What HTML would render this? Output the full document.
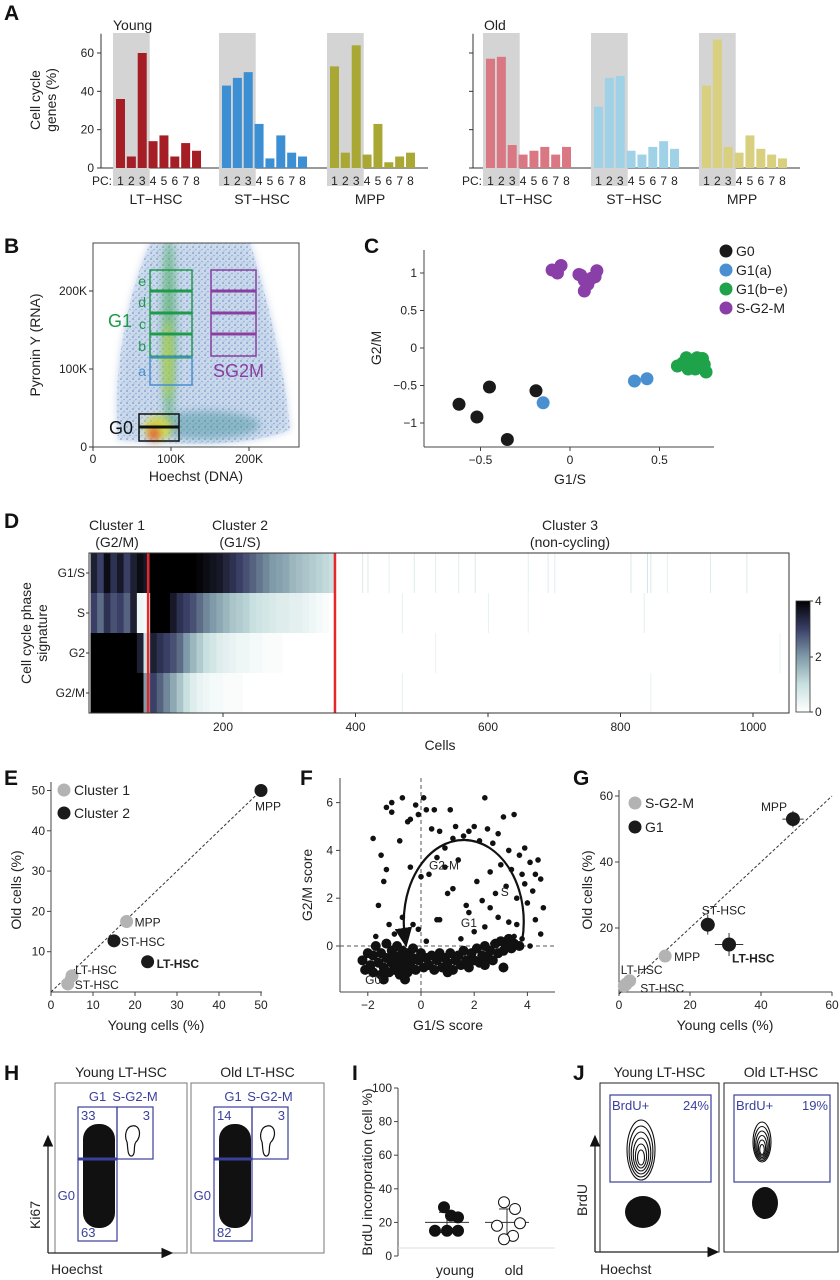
<!DOCTYPE html>
<html><head><meta charset="utf-8"><title>Cell cycle figure</title>
<style>
html,body{margin:0;padding:0;background:#fff;}
svg{display:block;font-family:"Liberation Sans",sans-serif;}
.t{font-size:12px;fill:#222;}
.lab{font-size:14px;fill:#222;}
.let{font-size:21px;font-weight:bold;fill:#111;}
</style></head>
<body>
<svg id="fig" width="840" height="1280" viewBox="0 0 840 1280" xmlns="http://www.w3.org/2000/svg">
<defs>
 <filter id="blur4" x="-50%" y="-50%" width="200%" height="200%"><feGaussianBlur stdDeviation="4"/></filter>
 <filter id="blur8" x="-50%" y="-50%" width="200%" height="200%"><feGaussianBlur stdDeviation="8"/></filter>
 <pattern id="speck" width="6" height="6" patternUnits="userSpaceOnUse">
  <rect width="6" height="6" fill="#c9d9ee"/><circle cx="1" cy="1" r="0.9" fill="#1f3f9a"/><circle cx="4" cy="3.5" r="0.8" fill="#3a6fc4"/><circle cx="2" cy="5" r="0.6" fill="#2c8a8a"/>
 </pattern>
 <linearGradient id="cbar" x1="0" y1="1" x2="0" y2="0">
  <stop offset="0" stop-color="#ffffff"/><stop offset="0.25" stop-color="#c8e0e0"/><stop offset="0.5" stop-color="#7f9aa8"/><stop offset="0.75" stop-color="#3a3f66"/><stop offset="1" stop-color="#000"/>
 </linearGradient>
 <marker id="arr" markerWidth="10" markerHeight="10" refX="5" refY="5" orient="auto"><path d="M0,1 L9,5 L0,9 z" fill="#111"/></marker>
</defs>

<text class="let" x="4" y="20">A</text>
<text class="let" x="4" y="253">B</text>
<text class="let" x="364" y="253">C</text>
<text class="let" x="4" y="528">D</text>
<text class="let" x="4" y="785">E</text>
<text class="let" x="300" y="785">F</text>
<text class="let" x="573" y="785">G</text>
<text class="let" x="4" y="1080">H</text>
<text class="let" x="352" y="1080">I</text>
<text class="let" x="573" y="1080">J</text>

<g id="pA"></g>
<g id="pB"></g>
<g id="pC"></g>
<g id="pD"></g>
<g id="pE"></g>
<g id="pF"></g>
<g id="pG"></g>
<g id="pH"></g>
<g id="pI"></g>
<g id="pJ"></g>
</svg>

<script>
// ---------------- DATA ----------------
const pcLabels = ["1","2","3","4","5","6","7","8"];
const groupNames = ["LT\u2212HSC","ST\u2212HSC","MPP"];
const aTicks = [0,20,40,60];
const youngLT = [36,6,60,14,17,6,13,9];
const youngST = [43,47,50,23,5,17,8,6];
const youngMPP = [53,8,64,7,23,3,6,8];
const oldLT = [57,58,12,7,9,11,7,11];
const oldST = [32,47,48,9,7,11,14,10];
const oldMPP = [43,67,11,8,17,10,7,5];
const cTicksX = [-0.5,0,0.5];
const cTicksY = [1,0.5,0,-0.5,-1];
const g0X = [-0.62,-0.45,-0.52,-0.35,-0.19];
const g0Y = [-0.75,-0.52,-0.92,-1.22,-0.57];
const g1aX = [-0.15,0.36,0.43];
const g1aY = [-0.73,-0.44,-0.41];
const g1beX = [0.60,0.63,0.65,0.68,0.70,0.72,0.74,0.75,0.76,0.66,0.71];
const g1beY = [-0.24,-0.20,-0.13,-0.22,-0.28,-0.18,-0.14,-0.22,-0.32,-0.28,-0.13];
const sg2mX = [-0.10,-0.07,-0.05,0.06,0.08,0.10,0.08,0.12,0.15,0.14,0.05];
const sg2mY = [1.04,1.00,1.10,0.97,0.90,0.85,0.76,0.93,1.03,0.95,0.98];
const hmRows = ["G1/S","S","G2","G2/M"];
const hmG1S = [3.5,3.0,3.8,3.2,3.6,3.0,3.5,3.8,3.6, 4,4,4,4,4,4,4,3.9,3.8,3.7,3.6,3.4,3.2,3.0,2.8,2.6,2.4,2.2,2.0,1.9,1.8,1.6,1.5,1.4,1.3,1.2,1.1,1.0];
const hmS   = [3.0,2.5,3.2,2.8,3.0,2.6,3.5,0.3,0.2, 4,4,4,3.6,3.2,3.0,2.8,2.5,2.2,2.0,1.8,1.6,1.4,1.3,1.2,1.0,0.9,0.8,0.7,0.6,0.6,0.5,0.5,0.4,0.3,0.2,0.1,0];
const hmG2  = [4,4,4,4,4,4,4,3.5,1.0, 3.5,3.2,3.0,2.8,2.5,2.0,1.6,1.3,1.0,0.8,0.6,0.5,0.4,0.3,0.3,0.2,0.2,0.1,0.1,0.1,0,0,0,0,0,0,0,0];
const hmG2M = [4,4,4,4,4,4,4,4,2.0, 3.0,2.6,2.2,1.8,1.4,1.0,0.6,0.4,0.3,0.2,0.2,0.1,0.1,0.1,0,0,0,0,0,0,0,0,0,0,0,0,0,0];
const sparseCells = [410,418,450,488,520,555,580,660,690,700,815,840,845,870,935,990,470,600,660,835,520,1040,470,845];
const sparseRow   = [0,0,0,0,0,0,0,0,0,0,0,0,0,0,0,0,1,1,1,1,2,2,3,3];
const sparseVal   = [0.7,0.6,0.5,0.6,0.5,0.5,0.6,0.5,0.6,0.5,0.7,0.8,0.7,0.5,0.6,0.6,0.5,0.4,0.4,0.5,0.4,0.4,0.5,0.4];
const clusterBounds = [87,369];
const dTicks = [200,400,600,800,1000];
const eTicks = [0,10,20,30,40,50];
const eC1X = [18,5,4]; const eC1Y = [17.5,4,2]; const eC1L = ["MPP","LT-HSC","ST-HSC"];
const eC2X = [50,15,23]; const eC2Y = [50,12.7,7.5]; const eC2L = ["MPP","ST-HSC","LT-HSC"];
const fTicksX = [-2,0,2,4];
const fTicksY = [0,2,4,6];
const fScatX = [-1.8,-1.3,-1.1,-1.1,-0.7,-0.5,-0.4,-0.2,-0.1,0.1,0.2,0.4,0.5,0.7,0.9,1.1,1.2,1.3,1.6,1.8,2.0,2.2,2.4,2.5,2.7,2.9,3.1,3.3,3.5,3.7,3.9,4.1,4.3,4.4,4.5,4.2,4.0,3.9,3.6,3.4,3.2,3.0,2.8,2.6,2.9,3.3,3.6,4.3,4.5,4.6,-1.5,-1.4,-1.3,-1.6,-1.2,-1.0,-0.3,-0.1,0.3,0.0,-0.4,0.6,1.0,1.4,1.7,1.8,0.6,0.7,2.1,2.3,2.0,2.4,1.5,0.2,-1.7,3.8,4.1,3.5,2.7,0.9,1.2,-0.7,-0.8,2.6,3.8];
const fScatY = [4.5,5.8,6.0,5.6,6.2,5.2,5.3,5.9,5.5,6.2,5.7,4.9,5.7,4.8,4.1,5.7,4.5,5.0,4.6,4.8,5.0,4.4,6.2,4.9,4.3,4.7,5.4,4.0,5.5,3.8,4.1,3.5,3.0,3.6,2.8,2.3,1.8,2.6,2.0,3.2,2.5,3.4,2.2,1.6,1.2,1.0,0.9,1.1,0.5,1.6,3.8,2.7,3.2,1.7,0.9,0.5,0.9,0.7,3.0,2.9,3.3,3.7,2.2,3.6,1.7,1.4,1.1,1.1,2.7,1.9,0.6,0.8,0.3,0.2,0.4,0.3,0.0,0.4,0.1,3.3,2.4,1.2,4.4,3.1,3.0];
const fBandX = [-2.2,-2.1,-2.0,-1.9,-1.8,-1.8,-1.7,-1.6,-1.5,-1.5,-1.4,-1.3,-1.3,-1.2,-1.1,-1.1,-1.0,-1.0,-0.9,-0.9,-0.8,-0.8,-0.7,-0.7,-0.6,-0.5,-0.5,-0.4,-0.3,-0.3,-0.2,-0.1,0.0,0.1,0.2,0.3,0.4,0.5,0.6,0.7,0.8,0.9,1.0,1.1,1.2,1.3,1.4,1.5,1.6,1.7,1.8,1.9,2.0,2.1,2.2,2.3,2.4,2.5,2.6,2.7,2.8,2.9,3.0,3.1,3.2,3.3,3.4,3.5,3.7,-1.4,-0.6,1.0,2.4,3.1];
const fBandY = [-0.6,-1.0,-0.3,-0.8,-1.1,-0.4,0.0,-0.7,-1.2,-0.3,-0.9,0.1,-0.5,-1.1,-0.2,-0.7,-1.0,-0.4,0.0,-0.8,-1.2,-0.5,-0.2,-0.9,-0.6,-1.1,-0.3,-0.8,-0.1,-0.5,-1.0,-0.6,-0.3,-0.9,-0.5,-0.8,-0.4,-1.0,-0.6,-0.3,-0.9,-0.5,-0.7,-0.3,-1.0,-0.6,-0.4,-0.8,-0.2,-0.6,-0.9,-0.3,-0.6,-0.1,-0.7,-0.4,0.0,-0.5,-0.2,-0.6,0.1,-0.3,0.2,-0.2,0.0,0.3,-0.1,0.1,0.0,-1.4,-1.4,-1.1,-0.8,-0.9];
const gTicks = [0,20,40,60];
const gGrayX = [13,3,2,1.5]; const gGrayY = [11.5,4,3,2.5];
const gBlackX = [49,25,31]; const gBlackY = [53,21,15];
const gErrX = [3,2,4]; const gErrY = [2.5,3,3.5];
const iTicks = [0,20,40,60,80,100];
const iYoung = [29,24,23,15,15,15];
const iOld = [32,28,19.5,18,12,10];
const iYoungStats = [20,26,14];
const iOldStats = [20,28,11];

const NS = "http://www.w3.org/2000/svg";
function mk(parent, tag, attrs, txt){
  const e = document.createElementNS(NS, tag);
  for (const k in attrs) e.setAttribute(k, attrs[k]);
  if (txt !== undefined) e.textContent = txt;
  parent.appendChild(e);
  return e;
}
const $ = id => document.getElementById(id);

// ---------------- PANEL A ----------------
(function(){
  const g = $("pA");
  const base = 168, ppu = 1.917, step = 10.86, bw = 9;
  const ay = v => base - v*ppu;
  function side(axisX, groupX, endX, sets, colors, showTickLabels, title, titleX){
    const ax = mk(g,"line",{x1:axisX,y1:ay(70),x2:axisX,y2:base,stroke:"#333","stroke-width":1});
    
    
    const bl = mk(g,"line",{x1:axisX,y1:base,x2:endX,y2:base,stroke:"#333","stroke-width":1});
    
    
    aTicks.forEach(t=>{
      const tk = mk(g,"line",{x1:axisX-4,y1:ay(t),x2:axisX,y2:ay(t),stroke:"#333"});
      
      
      if (showTickLabels){
        const tl = mk(g,"text",{x:axisX-7,y:ay(t)+4,"text-anchor":"end",class:"t"},String(t));
        
        
      }
    });
    sets.forEach((vals,gi)=>{
      const gx = groupX[gi];
      const sh = mk(g,"rect",{x:gx-3,y:33,width:step*2+bw+6,height:153,fill:"#d4d4d4"});
      
      
      vals.forEach((v,i)=>{
        const r = mk(g,"rect",{x:gx+i*step,y:ay(v),width:bw,height:v*ppu,fill:colors[gi]});
        
        
        const pl = mk(g,"text",{x:gx+i*step+bw/2,y:185,"text-anchor":"middle",class:"t","font-size":"11"},pcLabels[i]);
        
        
      });
      const gl = mk(g,"text",{x:gx+40,y:204,"text-anchor":"middle",class:"lab"},groupNames[gi]);
      
      
    });
    const tt = mk(g,"text",{x:titleX,y:30,class:"lab","font-size":"16"},title);
    
    
    const pc = mk(g,"text",{x:groupX[0]-24,y:185,class:"t","font-size":"11"},"PC:");
    
    
  }
  side(101,[116,222,330],428,[youngLT,youngST,youngMPP],["#a51e26","#3b8fd2","#aaa834"],true,"Young",113);
  side(473,[486,594,702],800,[oldLT,oldST,oldMPP],["#d97883","#9fd2e6","#d8d07e"],false,"Old",484);
  const yl = mk(g,"text",{transform:"translate(40,100) rotate(-90)","text-anchor":"middle",class:"lab"},"Cell cycle");
  
  
  const yl2 = mk(g,"text",{transform:"translate(56,100) rotate(-90)","text-anchor":"middle",class:"lab"},"genes (%)");
  
  
})();

// ---------------- PANEL B ----------------
(function(){
  const g = $("pB");
  const bx = v => 93 + v*0.78;
  const by = v => 447 - v*0.78;
  const clip = mk(g,"clipPath",{id:"bclip"}); mk(clip,"rect",{x:93,y:243,width:206,height:204});
  const d = mk(g,"g",{"clip-path":"url(#bclip)"});
  
  
  mk(d,"path",{d:"M118,440 C112,380 125,300 150,243 L250,243 C268,300 285,370 290,430 C250,445 200,447 118,440 z",fill:"url(#speck)",opacity:"0.75",filter:"url(#blur4)"});
  mk(d,"path",{d:"M118,440 C112,380 125,300 150,243 L250,243 C268,300 285,370 290,430 C250,445 200,447 118,440 z",fill:"url(#speck)",opacity:"0.45"});
  mk(d,"ellipse",{cx:205,cy:425,rx:55,ry:14,fill:"#3d8f9a",opacity:"0.45",filter:"url(#blur4)"});
  mk(d,"ellipse",{cx:169,cy:330,rx:7,ry:95,fill:"#58b070",opacity:"0.7",filter:"url(#blur4)"});
  mk(d,"ellipse",{cx:168,cy:360,rx:4,ry:40,fill:"#d6dd40",opacity:"0.7",filter:"url(#blur4)"});
  mk(d,"ellipse",{cx:158,cy:428,rx:14,ry:12,fill:"#d8dc3c",opacity:"0.9",filter:"url(#blur4)"});
  mk(d,"ellipse",{cx:154,cy:434,rx:5,ry:7,fill:"#e8402a",opacity:"0.9",filter:"url(#blur4)"});
  const fr = mk(g,"rect",{x:93,y:243,width:206,height:204,fill:"none",stroke:"#444","stroke-width":1});
  
  
  [0,100,200].forEach(t=>{
    mk(g,"line",{x1:bx(t),y1:447,x2:bx(t),y2:451,stroke:"#333"});
    const lx = mk(g,"text",{x:bx(t),y:463,"text-anchor":"middle",class:"t"},t===0?"0":t+"K");
    
    
    mk(g,"line",{x1:89,y1:by(t),x2:93,y2:by(t),stroke:"#333"});
    const ly = mk(g,"text",{x:87,y:by(t)+4,"text-anchor":"end",class:"t"},t===0?"0":t+"K");
    
    
  });
  const xt = mk(g,"text",{x:196,y:481,"text-anchor":"middle",class:"lab","font-size":"13"},"Hoechst (DNA)");
  
  
  const yt = mk(g,"text",{transform:"translate(40,345) rotate(-90)","text-anchor":"middle",class:"lab","font-size":"13"},"Pyronin Y (RNA)");
  
  
  const green="#1f9a4a", blue="#4a8fcf", purple="#8a3fa0";
  mk(g,"rect",{x:150,y:270,width:42,height:87,fill:"none",stroke:green,"stroke-width":1.5});
  [291,313,334,357].forEach(y=>mk(g,"line",{x1:150,y1:y,x2:192,y2:y,stroke:green,"stroke-width":3}));
  mk(g,"rect",{x:150,y:357,width:42,height:28,fill:"none",stroke:blue,"stroke-width":1.5});
  mk(g,"rect",{x:211,y:270,width:45,height:86,fill:"none",stroke:purple,"stroke-width":1.5});
  [291,313,334].forEach(y=>mk(g,"line",{x1:211,y1:y,x2:256,y2:y,stroke:purple,"stroke-width":3}));
  mk(g,"rect",{x:139,y:414,width:40,height:27,fill:"none",stroke:"#111","stroke-width":1.5});
  mk(g,"line",{x1:139,y1:427,x2:179,y2:427,stroke:"#111","stroke-width":3});
  [["e",281],["d",302],["c",324],["b",346]].forEach(([l,y])=>{
    const t = mk(g,"text",{x:146,y:y+5,"text-anchor":"end","font-size":"14",fill:green},l);
    
    
  });
  const ta = mk(g,"text",{x:146,y:376,"text-anchor":"end","font-size":"14",fill:blue},"a");
  
  
  const tg1 = mk(g,"text",{x:108,y:327,"font-size":"18",fill:green},"G1");
  
  
  const ts = mk(g,"text",{x:213,y:377,"font-size":"18",fill:purple},"SG2M");
  
  
  const t0 = mk(g,"text",{x:109,y:434,"font-size":"18",fill:"#111"},"G0");
  
  
})();

// ---------------- PANEL C ----------------
(function(){
  const g = $("pC");
  const cx = v => 570 + v*179;
  const cy = v => 348 - v*75;
  mk(g,"line",{x1:424,y1:250,x2:424,y2:447,stroke:"#444"});
  mk(g,"line",{x1:424,y1:447,x2:714,y2:447,stroke:"#444"});
  cTicksX.forEach(t=>{
    mk(g,"line",{x1:cx(t),y1:447,x2:cx(t),y2:451,stroke:"#444"});
    const l = mk(g,"text",{x:cx(t),y:464,"text-anchor":"middle",class:"t"},t===0?"0":(t<0?"\u22120.5":"0.5"));
    
    
  });
  cTicksY.forEach(t=>{
    mk(g,"line",{x1:420,y1:cy(t),x2:424,y2:cy(t),stroke:"#444"});
    const l = mk(g,"text",{x:417,y:cy(t)+4,"text-anchor":"end",class:"t"},String(t).replace("-","\u2212"));
    
    
  });
  const xt = mk(g,"text",{x:570,y:484,"text-anchor":"middle",class:"lab","font-size":"13"},"G1/S");
  
  
  const yt = mk(g,"text",{transform:"translate(381,348) rotate(-90)","text-anchor":"middle",class:"lab","font-size":"13"},"G2/M");
  
  
  function pts(X,Y,col,name){
    X.forEach((x,i)=>{
      const c = mk(g,"circle",{cx:cx(x),cy:cy(Y[i]),r:6.5,fill:col});
      
      
    });
  }
  pts(g0X,g0Y,"#1a1a1a","c-point-g0");
  pts(g1aX,g1aY,"#4a90d0","c-point-g1a");
  pts(g1beX,g1beY,"#1ea24a","c-point-g1be");
  pts(sg2mX,sg2mY,"#8a3ea8","c-point-sg2m");
  [["G0","#1a1a1a"],["G1(a)","#4a90d0"],["G1(b\u2212e)","#1ea24a"],["S-G2-M","#8a3ea8"]].forEach(([l,c],i)=>{
    const y = 251 + i*19;
    const lc = mk(g,"circle",{cx:726,cy:y,r:6.5,fill:c});
    
    
    const lt = mk(g,"text",{x:736,y:y+5,class:"lab","font-size":"13"},l);
    
    
  });
})();

// ---------------- PANEL D ----------------
(function(){
  const g = $("pD");
  const hx = c => 90.5 + c*0.6625;
  const rowTop = r => 553 + r*40;
  const stops = [[255,255,255],[200,224,224],[127,154,168],[58,63,102],[0,0,0]];
  function col(v){
    v = Math.max(0,Math.min(4,v));
    const i = Math.min(3,Math.floor(v)), f = v - i;
    const a = stops[i], b = stops[i+1];
    return "rgb("+a.map((x,k)=>Math.round(x+(b[k]-x)*f)).join(",")+")";
  }
  const rows = [hmG1S,hmS,hmG2,hmG2M];
  rows.forEach((vals,r)=>{
    vals.forEach((v,b)=>{
      const c0 = b*10, c1 = Math.min(clusterBounds[1], (b+1)*10);
      const rc = mk(g,"rect",{x:hx(c0),y:rowTop(r),width:hx(c1)-hx(c0)+0.4,height:40,fill:col(v)});
      
      
    });
  });
  sparseCells.forEach((c,i)=>{
    const ln = mk(g,"rect",{x:hx(c),y:rowTop(sparseRow[i]),width:1,height:40,fill:col(sparseVal[i])});
    
    
  });
  clusterBounds.forEach(c=>{
    const rl = mk(g,"line",{x1:hx(c),y1:553,x2:hx(c),y2:713,stroke:"#e8262a","stroke-width":2.5});
    
    
  });
  mk(g,"rect",{x:89,y:553,width:700,height:160,fill:"none",stroke:"#333"});
  hmRows.forEach((n,r)=>{
    const y = rowTop(r)+20;
    mk(g,"line",{x1:86,y1:y,x2:89,y2:y,stroke:"#333"});
    const t = mk(g,"text",{x:85,y:y+4,"text-anchor":"end",class:"t","font-size":"11"},n);
    
    
  });
  dTicks.forEach(t=>{
    mk(g,"line",{x1:hx(t),y1:713,x2:hx(t),y2:717,stroke:"#333"});
    const l = mk(g,"text",{x:hx(t),y:731,"text-anchor":"middle",class:"t","font-size":"11"},String(t));
    
    
  });
  const xt = mk(g,"text",{x:440,y:750,"text-anchor":"middle",class:"lab"},"Cells");
  
  
  const y1 = mk(g,"text",{transform:"translate(31,633) rotate(-90)","text-anchor":"middle",class:"lab"},"Cell cycle phase");
  
  
  const y2 = mk(g,"text",{transform:"translate(47,633) rotate(-90)","text-anchor":"middle",class:"lab"},"signature");
  
  
  [["Cluster 1","(G2/M)",117],["Cluster 2","(G1/S)",240],["Cluster 3","(non-cycling)",570]].forEach(([a,b,x])=>{
    const t1 = mk(g,"text",{x:x,y:530,"text-anchor":"middle",class:"lab","font-size":"13"},a);
    
    
    const t2 = mk(g,"text",{x:x,y:547,"text-anchor":"middle",class:"lab","font-size":"13"},b);
    
    
  });
  const cb = mk(g,"rect",{x:796,y:601,width:14,height:111,fill:"url(#cbar)",stroke:"#333","stroke-width":0.8});
  
  
  [[4,601],[2,657],[0,712]].forEach(([v,y])=>{
    mk(g,"line",{x1:810,y1:y,x2:813,y2:y,stroke:"#333"});
    const t = mk(g,"text",{x:815,y:y+4,class:"t","font-size":"10"},String(v));
    
    
  });
})();

// ---------------- PANEL E ----------------
(function(){
  const g = $("pE");
  const ex = v => 51 + v*4.2;
  const ey = v => 992 - v*4.03;
  mk(g,"line",{x1:51,y1:782,x2:51,y2:992,stroke:"#444"});
  mk(g,"line",{x1:51,y1:992,x2:262,y2:992,stroke:"#444"});
  eTicks.forEach(t=>{
    mk(g,"line",{x1:ex(t),y1:992,x2:ex(t),y2:996,stroke:"#444"});
    const l = mk(g,"text",{x:ex(t),y:1009,"text-anchor":"middle",class:"t"},String(t));
    
    
    if (t>0){
      mk(g,"line",{x1:47,y1:ey(t),x2:51,y2:ey(t),stroke:"#444"});
      const ly = mk(g,"text",{x:45,y:ey(t)+4,"text-anchor":"end",class:"t"},String(t));
      
      
    }
  });
  const dl = mk(g,"line",{x1:ex(0),y1:ey(0),x2:ex(50),y2:ey(50),stroke:"#333","stroke-dasharray":"3,2"});
  
  
  const xt = mk(g,"text",{x:156,y:1030,"text-anchor":"middle",class:"lab","font-size":"13"},"Young cells (%)");
  
  
  const yt = mk(g,"text",{transform:"translate(21,890) rotate(-90)","text-anchor":"middle",class:"lab","font-size":"13"},"Old cells (%)");
  
  
  eC1X.forEach((x,i)=>{
    const c = mk(g,"circle",{cx:ex(x),cy:ey(eC1Y[i]),r:6.5,fill:"#b3b3b3"});
    
    
  });
  eC2X.forEach((x,i)=>{
    const c = mk(g,"circle",{cx:ex(x),cy:ey(eC2Y[i]),r:6.5,fill:"#1a1a1a"});
    
    
  });
  const lbls = [[eC1L[0],ex(eC1X[0])+8,ey(eC1Y[0])+5,false],[eC1L[1],ex(eC1X[1])+3,ey(eC1Y[1])-2,false],[eC1L[2],ex(eC1X[2])+7,ey(eC1Y[2])+5,false],
    [eC2L[0],ex(eC2X[0])-6,ey(eC2Y[0])+20,false],[eC2L[1],ex(eC2X[1])+7,ey(eC2Y[1])+5,false],[eC2L[2],ex(eC2X[2])+9,ey(eC2Y[2])+6,true]];
  lbls.forEach(([t,x,y,b])=>{
    const l = mk(g,"text",{x:x,y:y,class:"t","font-size":b?"15":"11","font-weight":b?"bold":"normal"},t);
    
    
  });
  [["Cluster 1","#b3b3b3",790],["Cluster 2","#1a1a1a",813]].forEach(([l,c,y])=>{
    const m = mk(g,"circle",{cx:64,cy:y,r:6.5,fill:c});
    
    
    const t = mk(g,"text",{x:74,y:y+5,class:"lab","font-size":"13"},l);
    
    
  });
})();

// ---------------- PANEL F ----------------
(function(){
  const g = $("pF");
  const fx = v => 421 + v*26.6;
  const fy = v => 946 - v*23.9;
  mk(g,"line",{x1:340,y1:778,x2:340,y2:992,stroke:"#444"});
  mk(g,"line",{x1:340,y1:992,x2:555,y2:992,stroke:"#444"});
  fTicksX.forEach(t=>{
    mk(g,"line",{x1:fx(t),y1:992,x2:fx(t),y2:996,stroke:"#444"});
    const l = mk(g,"text",{x:fx(t),y:1009,"text-anchor":"middle",class:"t"},String(t).replace("-","\u2212"));
    
    
  });
  fTicksY.forEach(t=>{
    mk(g,"line",{x1:336,y1:fy(t),x2:340,y2:fy(t),stroke:"#444"});
    const l = mk(g,"text",{x:333,y:fy(t)+4,"text-anchor":"end",class:"t"},String(t));
    
    
  });
  mk(g,"line",{x1:fx(0),y1:778,x2:fx(0),y2:992,stroke:"#555","stroke-dasharray":"4,3"});
  mk(g,"line",{x1:340,y1:fy(0),x2:555,y2:fy(0),stroke:"#555","stroke-dasharray":"4,3"});
  fBandX.forEach((x,i)=>{
    const c = mk(g,"circle",{cx:fx(x),cy:fy(fBandY[i]),r:5,fill:"#111"});
    
    
  });
  fScatX.forEach((x,i)=>{
    const c = mk(g,"circle",{cx:fx(x),cy:fy(fScatY[i]),r:2.8,fill:"#111"});
    
    
  });
  const arc = mk(g,"path",{d:"M"+fx(3.8)+","+fy(0.2)+" A60,82 0 1 0 "+fx(-0.6)+","+fy(0.3),fill:"none",stroke:"#111","stroke-width":2.2,"marker-end":"url(#arr)"});
  
  
  [["G2-M",0.3,3.2],["S",3.0,2.1],["G1",1.5,0.8],["G0",-2.1,-1.6]].forEach(([t,x,y])=>{
    const l = mk(g,"text",{x:fx(x),y:fy(y),class:"t","font-size":"11"},t);
    
    
  });
  const xt = mk(g,"text",{x:448,y:1030,"text-anchor":"middle",class:"lab","font-size":"13"},"G1/S score");
  
  
  const yt = mk(g,"text",{transform:"translate(312,885) rotate(-90)","text-anchor":"middle",class:"lab","font-size":"13"},"G2/M score");
  
  
})();

// ---------------- PANEL G ----------------
(function(){
  const g = $("pG");
  const gx = v => 619 + v*3.55;
  const gy = v => 994 - v*3.3;
  mk(g,"line",{x1:619,y1:790,x2:619,y2:992,stroke:"#444"});
  mk(g,"line",{x1:619,y1:992,x2:832,y2:992,stroke:"#444"});
  gTicks.forEach(t=>{
    mk(g,"line",{x1:gx(t),y1:992,x2:gx(t),y2:996,stroke:"#444"});
    const l = mk(g,"text",{x:gx(t),y:1009,"text-anchor":"middle",class:"t"},String(t));
    
    
    if (t>0){
      mk(g,"line",{x1:615,y1:gy(t),x2:619,y2:gy(t),stroke:"#444"});
      const ly = mk(g,"text",{x:613,y:gy(t)+4,"text-anchor":"end",class:"t"},String(t));
      
      
    }
  });
  mk(g,"line",{x1:gx(0),y1:gy(0),x2:gx(60),y2:gy(60),stroke:"#333","stroke-dasharray":"3,2"});
  gGrayX.forEach((x,i)=>{
    const c = mk(g,"circle",{cx:gx(x),cy:gy(gGrayY[i]),r:6.5,fill:"#b3b3b3"});
    
    
  });
  gBlackX.forEach((x,i)=>{
    const X = gx(x), Y = gy(gBlackY[i]);
    mk(g,"line",{x1:gx(x-gErrX[i]),y1:Y,x2:gx(x+gErrX[i]),y2:Y,stroke:"#333"});
    mk(g,"line",{x1:X,y1:gy(gBlackY[i]-gErrY[i]),x2:X,y2:gy(gBlackY[i]+gErrY[i]),stroke:"#333"});
    const c = mk(g,"circle",{cx:X,cy:Y,r:7,fill:"#1a1a1a"});
    
    
  });
  [["MPP",gx(49)-32,gy(53)-8,false],["ST-HSC",gx(25)-6,gy(21)-10,false],["LT-HSC",gx(31)+3,gy(15)+18,true],["MPP",gx(13)+9,gy(11.5)+5,false],["LT-HSC",gx(0.5),gy(6),false],["ST-HSC",gx(4)+7,gy(2)+5,false]].forEach(([t,x,y,b])=>{
    const l = mk(g,"text",{x:x,y:y,class:"t","font-size":b?"15":"11","font-weight":b?"bold":"normal"},t);
    
    
  });
  [["S-G2-M","#b3b3b3",803],["G1","#1a1a1a",827]].forEach(([l,c,y])=>{
    const m = mk(g,"circle",{cx:635,cy:y,r:6.5,fill:c});
    
    
    const t = mk(g,"text",{x:645,y:y+5,class:"lab","font-size":"13"},l);
    
    
  });
  const xt = mk(g,"text",{x:725,y:1030,"text-anchor":"middle",class:"lab","font-size":"13"},"Young cells (%)");
  
  
  const yt = mk(g,"text",{transform:"translate(592,890) rotate(-90)","text-anchor":"middle",class:"lab","font-size":"13"},"Old cells (%)");
  
  
})();

// ---------------- PANEL H ----------------
(function(){
  const g = $("pH");
  const gc = "#3a3f9a";
  function box(x0,x1,title,g1n,sn,g0n,g1x,sx,name){
    mk(g,"rect",{x:x0,y:1083,width:x1-x0,height:170,fill:"none",stroke:"#777"});
    const t = mk(g,"text",{x:(x0+x1)/2,y:1077,"text-anchor":"middle",class:"lab","font-size":"13"},title);
    
    
    mk(g,"rect",{x:g1x+5,y:1124,width:32,height:104,rx:15,fill:"#111"});
    mk(g,"path",{d:"M"+(sx+15)+",1126 c8,-2 10,10 4,16 c-3,3 0,12 -4,14 c-5,1 -4,-10 -5,-14 c-3,-6 -1,-15 5,-16 z",fill:"none",stroke:"#111","stroke-width":1.2});
    mk(g,"rect",{x:g1x,y:1107,width:sx-g1x,height:52,fill:"none",stroke:gc,"stroke-width":1.2});
    mk(g,"rect",{x:sx,y:1107,width:36,height:52,fill:"none",stroke:gc,"stroke-width":1.2});
    mk(g,"rect",{x:g1x,y:1159,width:sx-g1x,height:82,fill:"none",stroke:gc,"stroke-width":1.2});
    mk(g,"line",{x1:g1x,y1:1159,x2:sx,y2:1159,stroke:gc,"stroke-width":3});
    [["G1",(g1x+sx)/2,1101,"middle"],["S-G2-M",sx+18,1101,"middle"],[g1n,g1x+3,1120,"start"],[sn,sx+33,1120,"end"],["G0",g1x-3,1200,"end"],[g0n,g1x+3,1237,"start"]].forEach(([s,x,y,a])=>{
      const l = mk(g,"text",{x:x,y:y,"text-anchor":a,"font-size":"13",fill:gc},s);
      
      
    });
  }
  box(55,187,"Young LT-HSC","33","3","63",78,117,"h-young");
  box(191,324,"Old LT-HSC","14","3","82",214,252,"h-old");
  mk(g,"line",{x1:48,y1:1253,x2:48,y2:1140,stroke:"#222","stroke-width":1.3,"marker-end":"url(#arr)"});
  mk(g,"line",{x1:48,y1:1253,x2:168,y2:1253,stroke:"#222","stroke-width":1.3,"marker-end":"url(#arr)"});
  const k = mk(g,"text",{transform:"translate(40,1215) rotate(-90)","text-anchor":"middle",class:"lab","font-size":"13"},"Ki67");
  
  
  const h = mk(g,"text",{x:51,y:1274,class:"lab","font-size":"13"},"Hoechst");
  
  
})();

// ---------------- PANEL I ----------------
(function(){
  const g = $("pI");
  const iy = v => 1256 - v*1.68;
  mk(g,"line",{x1:398,y1:1088,x2:398,y2:1256,stroke:"#444"});
  mk(g,"line",{x1:398,y1:1248,x2:555,y2:1248,stroke:"#ddd"});
  iTicks.forEach(t=>{
    mk(g,"line",{x1:394,y1:iy(t),x2:398,y2:iy(t),stroke:"#444"});
    const l = mk(g,"text",{x:392,y:iy(t)+4,"text-anchor":"end",class:"t"},String(t));
    
    
  });
  const offs = [-3,4,11,-12,0,11];
  const offsO = [-3,8,13,-10,6,-3];
  function grp(vals,stats,cx,filled,offA,name){
    mk(g,"line",{x1:cx-22,y1:iy(stats[0]),x2:cx+22,y2:iy(stats[0]),stroke:"#333"});
    mk(g,"line",{x1:cx,y1:iy(stats[1]),x2:cx,y2:iy(stats[2]),stroke:"#333"});
    mk(g,"line",{x1:cx-8,y1:iy(stats[1]),x2:cx+8,y2:iy(stats[1]),stroke:"#333"});
    mk(g,"line",{x1:cx-8,y1:iy(stats[2]),x2:cx+8,y2:iy(stats[2]),stroke:"#333"});
    vals.forEach((v,i)=>{
      const c = mk(g,"circle",{cx:cx+offA[i],cy:iy(v),r:5.5,fill:filled?"#111":"#fff",stroke:"#111","stroke-width":1});
      
      
    });
  }
  grp(iYoung,iYoungStats,447,true,offs,"i-point-young");
  grp(iOld,iOldStats,507,false,offsO,"i-point-old");
  const a = mk(g,"text",{x:455,y:1275,"text-anchor":"middle",class:"lab","font-size":"13"},"young");
  
  
  const b = mk(g,"text",{x:514,y:1275,"text-anchor":"middle",class:"lab","font-size":"13"},"old");
  
  
  const yt = mk(g,"text",{transform:"translate(372,1172) rotate(-90)","text-anchor":"middle",class:"lab","font-size":"13"},"BrdU incorporation (cell %)");
  
  
})();

// ---------------- PANEL J ----------------
(function(){
  const g = $("pJ");
  const gc = "#3a3f9a";
  function box(x0,x1,title,pct,upC,upRx,upRy,loC,loRx,loRy,name){
    mk(g,"rect",{x:x0,y:1083,width:x1-x0,height:169,fill:"none",stroke:"#222"});
    const t = mk(g,"text",{x:(x0+x1)/2,y:1077,"text-anchor":"middle",class:"lab","font-size":"13"},title);
    
    
    mk(g,"rect",{x:x0+10,y:1095,width:x1-x0-18,height:87,fill:"none",stroke:gc,"stroke-width":1.2});
    const l1 = mk(g,"text",{x:x0+12,y:1110,"font-size":"13",fill:gc},"BrdU+");
    
    
    const l2 = mk(g,"text",{x:x1-10,y:1110,"text-anchor":"end","font-size":"13",fill:gc},pct);
    
    
    for (let k=0;k<6;k++){
      mk(g,"ellipse",{cx:upC[0],cy:upC[1]+k*1.5,rx:upRx*(1-k*0.15),ry:upRy*(1-k*0.15),fill:"none",stroke:"#111","stroke-width":1.1});
    }
    mk(g,"ellipse",{cx:loC[0],cy:loC[1],rx:loRx,ry:loRy,fill:"#111"});
  }
  box(600,719,"Young LT-HSC","24%",[641,1150],14,30,[643,1212],18,16,"j-young");
  box(724,838,"Old LT-HSC","19%",[762,1142],9,20,[765,1203],13,16,"j-old");
  mk(g,"line",{x1:595,y1:1252,x2:595,y2:1140,stroke:"#222","stroke-width":1.3,"marker-end":"url(#arr)"});
  mk(g,"line",{x1:595,y1:1252,x2:714,y2:1252,stroke:"#222","stroke-width":1.3,"marker-end":"url(#arr)"});
  const k = mk(g,"text",{transform:"translate(587,1200) rotate(-90)","text-anchor":"middle",class:"lab","font-size":"13"},"BrdU");
  
  
  const h = mk(g,"text",{x:600,y:1274,class:"lab","font-size":"13"},"Hoechst");
  
  
})();
</script>
</body></html>
